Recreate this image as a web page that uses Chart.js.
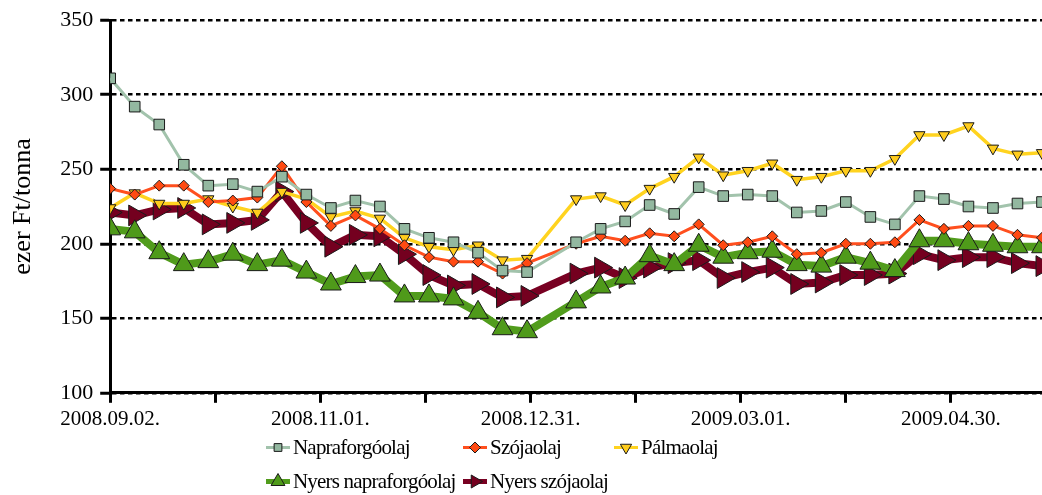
<!DOCTYPE html>
<html>
<head>
<meta charset="utf-8">
<script src="https://cdn.jsdelivr.net/npm/chart.js@4.4.0/dist/chart.umd.min.js"></script>
<style>
  html, body { margin: 0; padding: 0; background: #fff; }
  #wrap { position: relative; width: 1042px; height: 495px; overflow: hidden; }
  #legend { position: absolute; left: 0; top: 0; font-family: "Liberation Serif", serif; font-size: 21px; letter-spacing: -0.8px; color: #000; }
  .item { position: absolute; display: flex; align-items: center; white-space: nowrap; transform: translateY(-50%); }
  .item svg { margin-right: 3px; }
</style>
</head>
<body>
<div id="wrap">
  <canvas id="chart" width="1042" height="495"></canvas>
  <div id="legend"></div>
</div>
<script>
// heti árak (ezer Ft/tonna); 2009.01.06-án nincs adat
const dates = [
  "2008.09.02", "2008.09.09", "2008.09.16", "2008.09.23", "2008.09.30", "2008.10.07",
  "2008.10.14", "2008.10.21", "2008.10.28", "2008.11.04", "2008.11.11", "2008.11.18",
  "2008.11.25", "2008.12.02", "2008.12.09", "2008.12.16", "2008.12.23", "2008.12.30",
  "2009.01.13", "2009.01.20", "2009.01.27", "2009.02.03", "2009.02.10", "2009.02.17",
  "2009.02.24", "2009.03.03", "2009.03.10", "2009.03.17", "2009.03.24", "2009.03.31",
  "2009.04.07", "2009.04.14", "2009.04.21", "2009.04.28", "2009.05.05", "2009.05.12",
  "2009.05.19", "2009.05.26"
];
const napraforgoolaj = [311, 292, 280, 253, 239, 240, 235, 245, 233, 224, 229, 225, 210, 204, 201, 194, 182, 181,
  201, 210, 215, 226, 220, 238, 232, 233, 232, 221, 222, 228, 218, 213, 232, 230, 225, 224, 227, 228];
const szojaolaj = [237, 233, 239, 239, 228, 229, 231, 252, 228, 212, 219, 210, 199, 191, 188, 188, 180, 187,
  200, 205, 202, 207, 205, 213, 199, 201, 205, 193, 194, 200, 200, 201, 216, 210, 212, 212, 206, 204];
const palmaolaj = [224, 234, 227, 227, 230, 225, 221, 235, 230, 218, 222, 217, 204, 198, 196, 199, 189, 190,
  230, 232, 226, 237, 245, 258, 246, 249, 254, 243, 245, 249, 249, 257, 273, 273, 279, 264, 260, 261];
const nyersNapraforgoolaj = [210, 208, 194, 186, 188, 193, 186, 189, 181, 173, 178, 179, 165, 165, 163, 154, 143, 141,
  161, 171, 177, 192, 186, 199, 191, 194, 195, 186, 185, 191, 187, 182, 202, 202, 200, 199, 198, 198];
const nyersSzojaolaj = [221, 219, 223, 224, 213, 214, 216, 235, 214, 198, 206, 205, 193, 179, 172, 173, 164, 165,
  180, 184, 177, 184, 187, 189, 177, 181, 184, 173, 174, 179, 179, 180, 193, 189, 191, 191, 187, 185];

// x tengely: napok 2008.09.02-től
const xTickDays = [0, 30, 60, 90, 120, 150, 180, 210, 240];
const xTickLabels = ["2008.09.02.", "", "2008.11.01.", "", "2008.12.31.", "", "2009.03.01.", "", "2009.04.30."];
const yTicks = [100, 150, 200, 250, 300, 350];

const FONT = "'Liberation Serif', serif";
const START = Date.UTC(2008, 8, 2);
const dayOf = s => {
  const [y, m, d] = s.split(".").map(Number);
  return Math.round((Date.UTC(y, m - 1, d) - START) / 86400000);
};
const days = dates.map(dayOf);
const toXY = arr => arr.map((v, i) => ({ x: days[i], y: v }));

const series = [
  { label: "Napraforgóolaj", data: napraforgoolaj, line: "#a2c3ac", fill: "#93b8a0", width: 3, style: "rect", rot: 0, r: 7.5, lw: 3, lr: 5.5 },
  { label: "Szójaolaj", data: szojaolaj, line: "#ff4f1e", fill: "#ff4a12", width: 3, style: "rectRot", rot: 0, r: 5.5, lw: 3, lr: 5.5 },
  { label: "Pálmaolaj", data: palmaolaj, line: "#ffd31f", fill: "#ffcc1c", width: 3.5, style: "triangle", rot: 180, r: 6.5, lw: 3, lr: 6.5 },
  { label: "Nyers napraforgóolaj", data: nyersNapraforgoolaj, line: "#519c1c", fill: "#4f9a1a", width: 8, style: "triangle", rot: 0, r: 12, lw: 5, lr: 8 },
  { label: "Nyers szójaolaj", data: nyersSzojaolaj, line: "#780022", fill: "#74001f", width: 8, style: "triangle", rot: 90, r: 12, lw: 5, lr: 7.5 }
];

Chart.defaults.font.family = FONT;
Chart.defaults.color = "#000";

new Chart(document.getElementById("chart"), {
  type: "line",
  data: {
    datasets: series.map(s => ({
      label: s.label,
      data: toXY(s.data),
      borderColor: s.line,
      borderWidth: s.width,
      tension: 0,
      pointStyle: s.style,
      pointRotation: s.rot,
      pointRadius: s.r,
      pointBackgroundColor: s.fill,
      pointBorderColor: "#1a1a1a",
      pointBorderWidth: 1
    }))
  },
  options: {
    responsive: false,
    animation: false,
    devicePixelRatio: 1,
    layout: { autoPadding: false, padding: { left: 8, right: 0, top: 10, bottom: 59 } },
    plugins: { legend: { display: false }, tooltip: { enabled: false } },
    scales: {
      x: {
        type: "linear",
        min: 0,
        max: 266,
        afterBuildTicks: s => { s.ticks = xTickDays.map(v => ({ value: v })); },
        ticks: {
          autoSkip: false,
          maxRotation: 0,
          padding: 4,
          font: { size: 21 },
          callback: (v, i) => xTickLabels[i]
        },
        grid: { drawOnChartArea: false, drawTicks: true, tickLength: 10, tickWidth: 3, tickColor: "#000" },
        border: { display: true, color: "#000", width: 3 }
      },
      y: {
        min: 100,
        max: 350,
        afterBuildTicks: s => { s.ticks = yTicks.map(v => ({ value: v })); },
        ticks: { padding: 7, font: { size: 22 } },
        grid: { color: "#000", lineWidth: 2.5, drawTicks: true, tickLength: 10, tickWidth: 3, tickColor: "#000", tickBorderDash: [] },
        border: { display: true, color: "#000", width: 3, dash: [4.5, 3.5] },
        title: { display: true, text: "ezer Ft/tonna", font: { size: 26 }, padding: { top: 0, bottom: 14 } }
      }
    }
  }
});

// jelmagyarázat
function markerPoints(style, rot, r, cx, cy) {
  let angles;
  if (style === "rect") { angles = [45, 135, 225, 315]; }
  else if (style === "rectRot") { angles = [0, 90, 180, 270]; }
  else { angles = [rot, rot + 120, rot + 240]; }
  return angles.map(a => {
    const rad = a * Math.PI / 180;
    return (cx + Math.sin(rad) * r).toFixed(2) + "," + (cy - Math.cos(rad) * r).toFixed(2);
  }).join(" ");
}
const legendPos = [
  { left: 266, top: 447 }, { left: 463, top: 447 }, { left: 614, top: 447 },
  { left: 266, top: 481 }, { left: 463, top: 481 }
];
const legendEl = document.getElementById("legend");
series.forEach((s, i) => {
  const p = legendPos[i];
  const item = document.createElement("div");
  item.className = "item";
  item.style.left = p.left + "px";
  item.style.top = p.top + "px";
  item.innerHTML =
    `<svg width="24" height="22" viewBox="0 0 24 22">` +
    `<line x1="0" y1="11" x2="24" y2="11" stroke="${s.line}" stroke-width="${s.lw}"/>` +
    `<polygon points="${markerPoints(s.style, s.rot, s.lr, 12, 11)}" fill="${s.fill}" stroke="#1a1a1a" stroke-width="1"/>` +
    `</svg><span>${s.label}</span>`;
  legendEl.appendChild(item);
});
</script>
</body>
</html>
